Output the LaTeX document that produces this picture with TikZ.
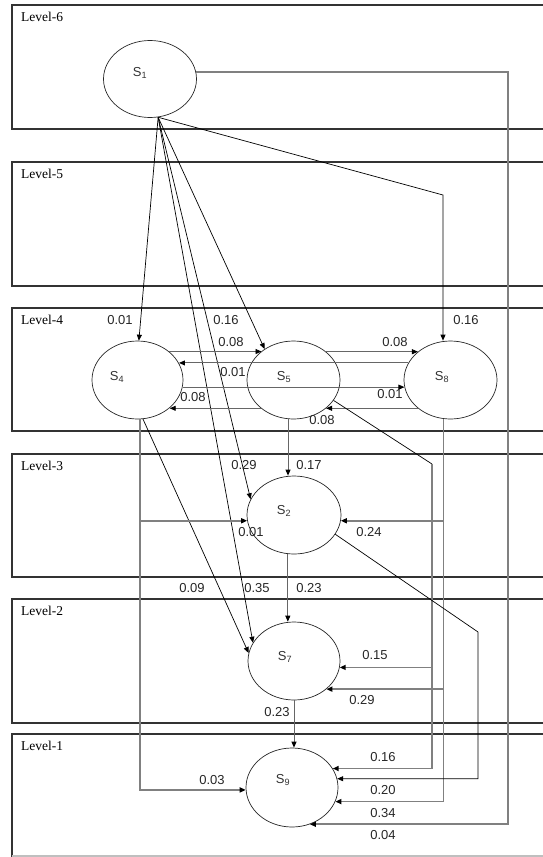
\documentclass[tikz,border=0pt]{standalone}
\usepackage{fontspec}
\setmainfont{Liberation Serif}
\setsansfont{Liberation Sans}
\usetikzlibrary{arrows.meta,shapes.geometric}
\begin{document}
\begin{tikzpicture}[x=1pt,y=-1pt,
  levelbox/.style={draw=black!80, line width=1.2pt},
  leveltext/.style={anchor=base west, inner sep=0pt, font=\fontsize{13.5}{15}\selectfont},
  state/.style={draw=black!85, ellipse, line width=0.7pt, minimum width=93pt, minimum height=78pt, inner sep=0pt},
  stext/.style={inner sep=0pt, font=\sffamily\fontsize{13}{15}\selectfont, text=black!80},
  wt/.style={inner sep=0pt, font=\sffamily\fontsize{13}{15}\selectfont, text=black!85},
  flow/.style={-{Triangle[length=6pt,width=5pt,color=black]}, draw=black, line width=0.7pt},
  link/.style={flow, draw=black!60, line width=0.9pt},
  trunk/.style={flow, draw=black!50, line width=1.6pt},
  plain/.style={draw=black, line width=0.7pt},
]
\useasboundingbox (0,0) rectangle (543,857);
\clip (0,0) rectangle (543,857);

% level bands
\foreach \t/\b/\n in {5/129/6, 162/286/5, 308/431/4, 454/577/3, 599/723/2} {
  \draw[levelbox] (12,\t) rectangle (560,\b);
  \node[leveltext] (lv\n) at (21,\t+16) {Level-\n};
}
\draw[levelbox] (560,856) -- (12,856) -- (12,734) -- (560,734);
\draw[black!25, line width=1.2pt] (12,856) -- (560,856);
\node[leveltext] (lv1) at (21,750) {Level-1};

% states
\node[state, minimum width=93pt, minimum height=77pt] (s1) at (150,79) {};
\node[state, minimum width=91pt] (s4) at (137.5,380) {};
\node[state] (s5) at (293.5,380) {};
\node[state] (s8) at (450.5,380) {};
\node[state, minimum width=94pt] (s2) at (294,515) {};
\node[state, minimum width=92pt] (s7) at (294,661) {};
\node[state, minimum width=92pt, minimum height=79pt] (s9) at (292,787.5) {};

\node[stext] (s1t) at (140,73) {S\textsubscript{1}};
\node[stext] (s4t) at (117,377) {S\textsubscript{4}};
\node[stext] (s5t) at (284,377) {S\textsubscript{5}};
\node[stext] (s8t) at (442,377) {S\textsubscript{8}};
\node[stext] (s2t) at (284,511) {S\textsubscript{2}};
\node[stext] (s7t) at (285,657) {S\textsubscript{7}};
\node[stext] (s9t) at (283,780) {S\textsubscript{9}};

% out of S1
\coordinate (k8) at (443,195);
\draw[flow] (s1.282) -- (s4.88);
\draw[flow] (s1.282) -- (s5.133);
\draw[flow] (s1.282) -- (k8) -- (k8 |- s8.north);
\draw[flow] (s1.282) -- (s2.160);
\draw[flow] (s1.282) -- (s7.156);
\draw[flow] (s4.278) -- (s7.170);

% exchanges inside level 4
\draw[link] (s4.42) -- (s4.42 -| s5.138);
\draw[link] (s8.158) -- (s8.158 -| s4.22);
\draw[link] (s4.-9) -- (s4.-9 -| s8.-171);
\draw[link] (s5.41) -- (s5.41 -| s8.139);
\draw[link] (s5.221) -- (s5.221 -| s4.-41);
\draw[link] (s8.221) -- (s8.221 -| s5.-41);

% straight drops
\draw[link] (s5.262) -- (s5.262 |- s2.north);
\draw[link] (s2.261) -- (s2.261 |- s7.north);
\draw[link] (s7.south) -- (s7.south |- s9.north);

% S5 trunk
\coordinate (k5) at (432,464);
\draw[plain] (s5.-27) -- (k5);
\draw[trunk] (k5) |- (s7.-8);
\draw[trunk] (k5) |- (s9.25);

% S8 trunk
\draw[trunk] (s8.260) |- (s2.-7);
\draw[trunk] (s8.260) |- (s7.-41);
\draw[trunk] (s8.260) |- (s9.-18);

% S2 to S9
\coordinate (k2) at (478,632);
\draw[flow] (s2.-25) -- (k2) |- (s9.11);

% S1 to S9 along the right side
\coordinate (k1) at (508,0);
\draw[trunk] (s1.9) -- (s1.9 -| k1) |- (s9.-64);

% S4 trunk
\draw[trunk] (s4.274) |- (s2.187);
\draw[trunk] (s4.274) |- (s9.183);

% weights
\node[wt] (w1) at (120,320) {0.01};
\node[wt] (w2) at (226,320) {0.16};
\node[wt] (w3) at (466,320) {0.16};
\node[wt] (w4) at (231,342) {0.08};
\node[wt] (w5) at (233,372) {0.01};
\node[wt] (w6) at (193,397) {0.08};
\node[wt] (w7) at (395,342) {0.08};
\node[wt] (w8) at (390,394) {0.01};
\node[wt] (w9) at (322,420) {0.08};
\node[wt] (w10) at (244,465) {0.29};
\node[wt] (w11) at (309,465) {0.17};
\node[wt] (w12) at (251,532) {0.01};
\node[wt] (w13) at (369,532) {0.24};
\node[wt] (w14) at (192,588) {0.09};
\node[wt] (w15) at (257,588) {0.35};
\node[wt] (w16) at (309,588) {0.23};
\node[wt] (w17) at (375,655) {0.15};
\node[wt] (w18) at (362,700) {0.29};
\node[wt] (w19) at (277,712) {0.23};
\node[wt] (w20) at (212,780) {0.03};
\node[wt] (w21) at (383,757) {0.16};
\node[wt] (w22) at (383,790) {0.20};
\node[wt] (w23) at (383,813) {0.34};
\node[wt] (w24) at (383,835) {0.04};
\end{tikzpicture}
\end{document}
